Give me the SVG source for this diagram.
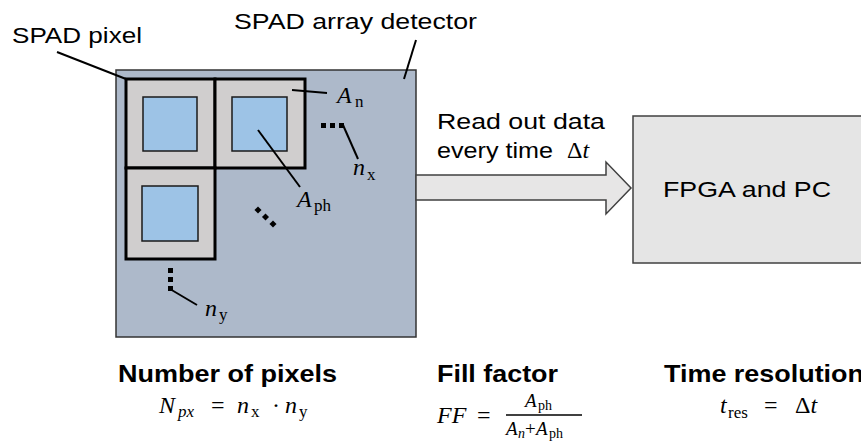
<svg xmlns="http://www.w3.org/2000/svg" width="861" height="443" viewBox="0 0 861 443">
  <style>
    .sans { font-family: "Liberation Sans", Arial, sans-serif; font-size: 22px; fill: #000; }
    .bold { font-family: "Liberation Sans", Arial, sans-serif; font-size: 24px; font-weight: bold; fill: #000; }
    .math { font-family: "Liberation Serif", "DejaVu Serif", serif; font-size: 24px; fill: #000; }
    .frac { font-size: 19px; }
    .mi { font-style: italic; }
    .sub { font-size: 17px; font-style: normal; }
    .fsub { font-size: 14px; font-style: normal; }
    .leader { stroke: #000; stroke-width: 2; fill: none; }
    .pixel { fill: #d0cece; stroke: #000; stroke-width: 3; }
    .photo { fill: #9dc3e6; stroke: #1a1a1a; stroke-width: 1.5; }
    .dot { fill: #000; }
  </style>
  <rect width="861" height="443" fill="#fff"/>

  <!-- SPAD array detector with its pixel grid -->
  <g id="detector">
    <rect x="116" y="70" width="300" height="267" fill="#adb9ca" stroke="#333" stroke-width="1.5"/>
    <g id="pixel-1">
      <rect class="pixel" x="126" y="79" width="89" height="89"/>
      <rect class="photo" x="143" y="97" width="54" height="54"/>
    </g>
    <g id="pixel-2">
      <rect class="pixel" x="215" y="79" width="90" height="89"/>
      <rect class="photo" x="232" y="97" width="55" height="54"/>
    </g>
    <g id="pixel-3">
      <rect class="pixel" x="126" y="168" width="89" height="91"/>
      <rect class="photo" x="142" y="186" width="56" height="55"/>
    </g>
    <!-- continuation dots -->
    <rect class="dot" x="321" y="123" width="5" height="5"/>
    <rect class="dot" x="330" y="123" width="5" height="5"/>
    <rect class="dot" x="339" y="123" width="5" height="5"/>
    <rect class="dot" x="168" y="268" width="5" height="5"/>
    <rect class="dot" x="168" y="277" width="5" height="5"/>
    <rect class="dot" x="168" y="286" width="5" height="5"/>
    <rect class="dot" x="-2.5" y="-2.5" width="5" height="5" transform="translate(258 210) rotate(45)"/>
    <rect class="dot" x="-2.5" y="-2.5" width="5" height="5" transform="translate(265.5 217) rotate(45)"/>
    <rect class="dot" x="-2.5" y="-2.5" width="5" height="5" transform="translate(273 224) rotate(45)"/>
  </g>

  <!-- leader lines and read-out arrow -->
  <g id="connectors">
    <line class="leader" x1="57" y1="52" x2="126" y2="79"/>
    <line class="leader" x1="416" y1="40" x2="404" y2="79"/>
    <line class="leader" x1="292" y1="90" x2="327" y2="93"/>
    <line class="leader" x1="343" y1="125" x2="358" y2="159"/>
    <line class="leader" x1="258" y1="130" x2="300" y2="187"/>
    <line class="leader" x1="170" y1="289" x2="197" y2="305"/>
    <path d="M416 175 H606 V162 L631 188 L606 214 V200 H416 Z" fill="#e7e6e6" stroke="#404040" stroke-width="1.5"/>
  </g>

  <g id="label-spad-pixel">
    <text class="sans" x="12" y="43" textLength="130" lengthAdjust="spacingAndGlyphs">SPAD pixel</text>
  </g>
  <g id="label-detector">
    <text class="sans" x="234" y="29" textLength="243" lengthAdjust="spacingAndGlyphs">SPAD array detector</text>
  </g>
  <g id="label-an">
    <text class="math"><tspan class="mi" x="337" y="103">A</tspan><tspan class="sub" x="355" y="107">n</tspan></text>
  </g>
  <g id="label-nx">
    <text class="math"><tspan class="mi" x="353" y="175">n</tspan><tspan class="sub" x="367" y="180">x</tspan></text>
  </g>
  <g id="label-aph">
    <text class="math"><tspan class="mi" x="297" y="207">A</tspan><tspan class="sub" x="314" y="211">ph</tspan></text>
  </g>
  <g id="label-ny">
    <text class="math"><tspan class="mi" x="205" y="316">n</tspan><tspan class="sub" x="219" y="320">y</tspan></text>
  </g>

  <g id="label-readout">
    <text class="sans" x="437" y="129" textLength="168" lengthAdjust="spacingAndGlyphs">Read out data</text>
    <text class="sans" x="437" y="158" textLength="116" lengthAdjust="spacingAndGlyphs">every time</text>
    <text class="math"><tspan x="567" y="158">Δ</tspan><tspan class="mi">t</tspan></text>
  </g>

  <g id="fpga-pc">
    <rect x="633" y="116" width="240" height="147" fill="#e5e5e5" stroke="#404040" stroke-width="1.5"/>
    <text class="sans" x="663" y="197" textLength="168" lengthAdjust="spacingAndGlyphs">FPGA and PC</text>
  </g>

  <!-- figures of merit -->
  <g id="metric-pixels">
    <text class="bold" x="118" y="382" textLength="219" lengthAdjust="spacingAndGlyphs">Number of pixels</text>
    <text class="math"><tspan class="mi" x="159" y="413">N</tspan><tspan class="sub mi" x="178" y="417" style="font-style:italic">px</tspan><tspan x="211" y="413">=</tspan><tspan class="mi" x="237" y="413">n</tspan><tspan class="sub" x="251" y="417">x</tspan><tspan x="272" y="413">·</tspan><tspan class="mi" x="285" y="413">n</tspan><tspan class="sub" x="299" y="417">y</tspan></text>
  </g>
  <g id="metric-fill">
    <text class="bold" x="437" y="382" textLength="121" lengthAdjust="spacingAndGlyphs">Fill factor</text>
    <text class="math"><tspan class="mi" x="437" y="423">FF</tspan><tspan x="477" y="423">=</tspan></text>
    <text class="math frac"><tspan class="mi" x="525" y="407">A</tspan><tspan class="fsub" x="538" y="410">ph</tspan></text>
    <text class="math frac"><tspan class="mi" x="506" y="435">A</tspan><tspan class="fsub" x="518" y="438" style="font-style:italic">n</tspan><tspan x="525" y="435">+</tspan><tspan class="mi" x="536" y="435">A</tspan><tspan class="fsub" x="549" y="438">ph</tspan></text>
    <line x1="506" y1="415" x2="582" y2="415" stroke="#000" stroke-width="1.3"/>
  </g>
  <g id="metric-time">
    <text class="bold" x="664" y="382" textLength="200" lengthAdjust="spacingAndGlyphs">Time resolution</text>
    <text class="math"><tspan class="mi" x="720" y="413">t</tspan><tspan class="sub" x="728" y="418">res</tspan><tspan x="764" y="413">=</tspan><tspan x="795" y="413">Δ</tspan><tspan class="mi">t</tspan></text>
  </g>
</svg>
